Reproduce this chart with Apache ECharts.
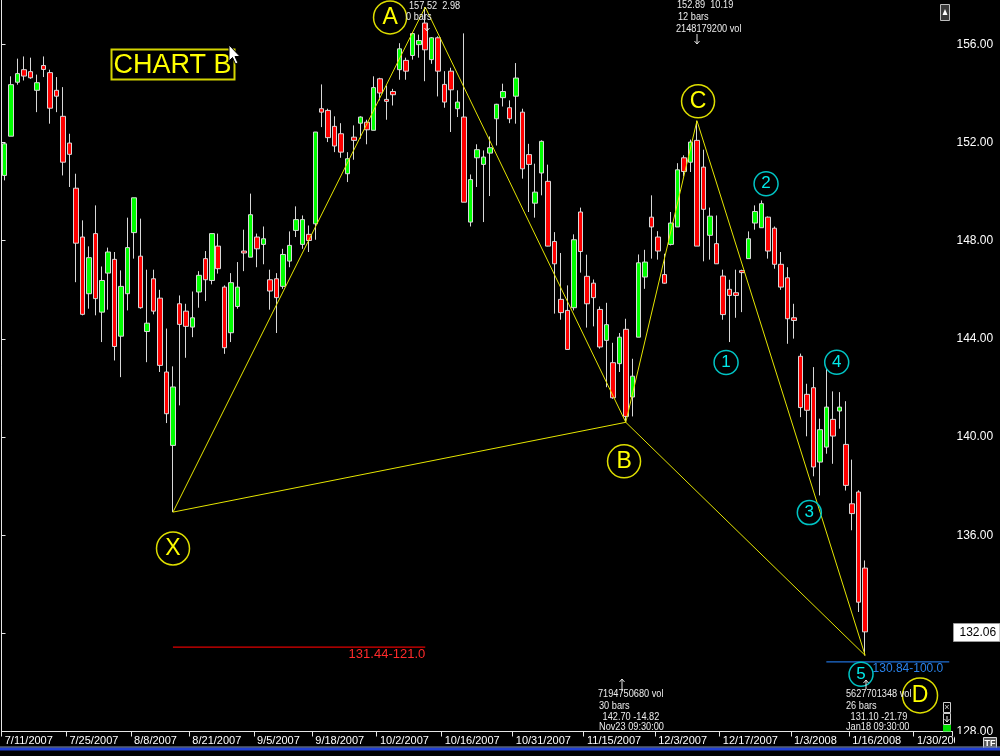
<!DOCTYPE html>
<html>
<head>
<meta charset="utf-8">
<style>
  html, body { margin: 0; padding: 0; background: #000; }
  #chart { width: 1000px; height: 756px; }
</style>
<script src="https://cdn.jsdelivr.net/npm/echarts@6/dist/echarts.min.js"></script>
</head>
<body>
<div id="chart"></div>
<script>
// Daily bars, 7/11/2007 .. 1/18/2008
const opens = [
  150.66,152.26,154.46,154.97,154.89,154.13,155.14,154.85,154.13,153.07,
  151.98,150.14,148.15,145.84,148.29,145.09,146.68,147.24,144.11,145.84,
  148.33,147.37,144.30,146.45,145.66,142.65,139.66,145.43,145.13,144.48,
  145.91,147.27,146.38,147.78,146.11,144.25,145.32,147.58,147.33,148.15,
  147.85,146.41,146.45,146.14,147.17,148.42,147.85,148.26,148.69,153.38,
  153.31,152.66,152.36,150.73,152.22,152.79,152.83,152.50,154.60,153.76,
  154.08,154.97,155.35,155.55,155.99,156.87,155.38,156.27,154.37,154.91,
  153.38,153.04,148.76,151.38,151.11,151.57,152.97,153.83,153.42,153.89,
  153.24,151.51,149.53,150.76,150.42,147.97,145.61,145.16,145.27,149.17,
  146.55,146.27,145.20,143.94,143.03,142.99,144.39,141.63,144.07,146.52,
  148.96,148.15,146.62,147.85,148.56,151.38,151.20,152.09,151.00,148.22,
  147.88,146.56,146.02,145.88,146.78,147.27,148.72,148.53,148.96,148.51,
  147.04,146.49,144.86,143.29,141.74,142.01,138.98,139.59,140.72,141.06,
  139.70,137.28,137.76,134.66
];
const closes = [
  151.95,154.36,154.81,154.71,154.64,154.44,154.98,153.40,153.89,151.20,
  151.52,147.90,145.00,147.31,145.64,146.38,147.54,143.69,146.14,147.72,
  149.75,145.27,144.64,145.13,142.92,140.95,142.04,144.59,144.51,144.86,
  146.59,146.41,148.29,146.86,143.64,146.29,146.11,147.50,149.06,147.67,
  148.08,145.95,145.68,147.44,147.81,148.86,148.86,148.01,152.43,153.24,
  152.20,151.86,151.61,151.34,152.09,153.04,152.52,154.24,154.02,153.68,
  153.95,155.82,154.91,156.44,156.16,155.78,156.27,154.91,153.65,154.15,
  153.65,149.57,150.49,151.71,151.41,151.79,153.56,154.08,152.97,154.63,
  150.93,151.11,149.98,152.05,147.78,147.06,145.07,143.57,148.04,147.56,
  145.43,145.68,143.67,144.58,141.60,144.07,140.84,142.48,147.10,147.13,
  148.56,147.58,146.27,148.72,150.89,150.82,152.02,147.78,149.28,149.00,
  147.06,144.99,145.77,145.77,146.70,148.08,149.19,149.51,147.58,147.04,
  146.11,144.82,144.75,141.20,141.09,138.78,140.30,141.22,140.04,141.22,
  138.03,136.88,133.27,132.06
];
const lows = [
  150.46,152.26,154.36,154.53,154.60,153.24,154.67,152.77,153.24,150.66,
  150.19,146.31,144.96,145.23,144.96,143.87,145.19,143.12,142.44,145.16,
  147.27,145.23,143.05,145.00,142.65,140.57,136.94,141.29,143.23,144.07,
  145.27,145.54,146.22,146.66,143.39,143.87,145.23,146.76,147.33,146.92,
  147.04,145.19,144.24,146.04,146.92,148.15,147.67,147.54,148.04,152.63,
  152.02,151.61,151.38,150.39,151.30,152.16,151.93,152.50,153.72,152.93,
  153.51,154.56,154.56,155.38,155.46,154.50,155.21,153.88,153.42,152.43,
  153.04,149.57,148.58,150.19,148.76,149.82,151.88,153.47,152.79,152.77,
  150.53,149.17,148.94,149.85,147.77,145.03,144.78,143.57,145.16,146.70,
  144.46,144.51,143.60,142.03,141.56,142.65,140.60,140.84,144.07,146.04,
  147.27,147.23,146.25,147.81,148.56,150.62,150.80,147.78,147.16,147.23,
  147.06,144.78,143.87,144.86,145.09,147.27,148.45,148.53,147.27,146.86,
  146.00,143.80,144.01,140.81,140.03,138.40,137.62,139.32,138.91,140.34,
  137.82,136.20,132.87,131.10
];
const highs = [
  151.98,154.70,155.42,155.51,155.46,154.77,155.51,154.97,154.67,154.26,
  152.36,150.73,148.83,147.77,149.44,146.95,147.72,147.54,146.79,148.94,
  149.75,148.90,146.82,146.82,146.00,144.42,142.88,145.77,145.43,145.93,
  146.76,147.58,148.29,148.29,146.18,146.68,147.13,148.45,149.92,148.29,
  148.58,146.82,146.68,147.67,148.38,149.40,149.03,148.62,152.43,154.37,
  153.38,153.07,152.79,151.61,152.70,153.07,152.93,154.70,154.64,154.33,
  154.19,156.05,155.46,156.44,156.40,157.52,156.30,156.33,154.91,155.05,
  154.13,156.45,150.70,151.93,151.68,152.25,153.58,154.40,153.72,155.24,
  153.38,151.95,151.14,152.09,151.10,148.35,147.50,146.18,148.26,149.35,
  147.43,146.42,145.32,145.47,143.84,144.24,144.82,143.19,147.44,147.63,
  149.85,148.39,147.47,149.17,151.16,151.48,152.12,152.89,151.71,149.35,
  149.03,146.82,146.41,146.82,146.82,148.38,149.44,149.64,148.99,148.58,
  147.54,146.92,145.43,143.40,142.17,142.85,140.75,142.78,141.86,141.83,
  141.46,139.08,137.83,134.97
];

// Session calendar: weekdays from the first bar, minus exchange holidays
// that fall inside the loaded history; the tail runs past the last bar.
const firstSession = [2007, 6, 11];
const marketHolidays = ['2007-09-03', '2007-11-22', '2007-12-25', '2008-01-01'];
const sessionCount = 147;

// Date labels shown under the price pane
const dateTicks = ['7/11/2007','7/25/2007','8/8/2007','8/21/2007','9/5/2007','9/18/2007',
  '10/2/2007','10/16/2007','10/31/2007','11/15/2007','12/3/2007','12/17/2007',
  '1/3/2008','1/16/2008','1/30/2008'];

// Price scale labels
const priceTicks = [128, 132, 136, 140, 144, 148, 152, 156];
const lastPrice = 132.06;

// XABCD pivots (bar index, price)
const pivotNames = ['X', 'A', 'B', 'C', 'D'];
const pivotBars = [26, 65, 96, 107, 133];
const pivotPrices = [136.94, 157.52, 140.60, 152.89, 131.10];

// Fibonacci projections
const levelNames = ['131.44-121.0', '130.84-100.0'];
const levelPrices = [131.44, 130.84];
const levelFromBar = [26, 127];
const levelToBar = [65, 146];

// Letter and wave count badges: [name, bar position, price]
const letterBadges = [['X', 26.51, 135.46], ['A', 60.06, 157.10], ['B', 96.23, 139.01],
  ['C', 107.67, 153.68], ['D', 141.98, 129.47]];
const waveBadges = [['1', 112.0, 143.04], ['2', 118.18, 150.32], ['3', 124.87, 136.92],
  ['4', 129.1, 143.05], ['5', 132.86, 130.33]];

// ---------------------------------------------------------------
const holidaySet = new Set(marketHolidays);
const sessions = [];
{
  const d = new Date(Date.UTC(firstSession[0], firstSession[1], firstSession[2]));
  while (sessions.length < sessionCount) {
    const wd = d.getUTCDay();
    const iso = d.toISOString().slice(0, 10);
    if (wd !== 0 && wd !== 6 && !holidaySet.has(iso)) {
      sessions.push((d.getUTCMonth() + 1) + '/' + d.getUTCDate() + '/' + d.getUTCFullYear());
    }
    d.setUTCDate(d.getUTCDate() + 1);
  }
}
const tickSet = new Set(dateTicks);
const priceSet = new Set(priceTicks);

const bars = opens.map((o, i) => [o, closes[i], lows[i], highs[i]]);
const legPath = pivotBars.map((b, i) => [b, pivotPrices[i]]);
const basePath = [0, 2, 4].map(k => [pivotBars[k], pivotPrices[k]]);

const SANS = '"Liberation Sans", Arial, sans-serif';
const PANE_LEFT = 1.5, PANE_TOP = 0, PANE_W = 951, PANE_H = 731.5;
const PRICE_MIN = 128, PRICE_MAX = 157.81;

const levelColors = ['#e00000', '#1f6fd6'];
const levelTextColors = ['#ff2a2a', '#2a82ea'];
const levelFont = [13, 12];
const levelShift = [0, 6];

// one host series per projection level: a flat two-point segment plus its caption
const levelSeries = levelPrices.map((p, i) => ({
  type: 'line', xAxisIndex: 0, yAxisIndex: 0, silent: true, z: 4,
  color: levelColors[i],
  data: [[levelFromBar[i], p], [levelToBar[i], p]],
  symbol: 'none',
  lineStyle: { color: levelColors[i], width: 1.2, type: 'solid', opacity: 1 },
  markLine: {
    silent: true, animation: false, symbol: ['none', 'none'],
    lineStyle: { color: 'rgba(0,0,0,0)', width: 0 },
    label: {
      show: true, position: 'insideEndBottom', distance: [levelShift[i], 1],
      formatter: levelNames[i], color: levelTextColors[i],
      fontSize: levelFont[i], fontFamily: SANS
    },
    data: [[{ coord: [levelFromBar[i], p] }, { coord: [levelToBar[i], p] }]]
  }
}));

function arrow(x, y1, y2) {
  // y1 = tail, y2 = head
  const dir = y2 > y1 ? -1 : 1;
  return [
    { type: 'line', z: 100, shape: { x1: x, y1: y1, x2: x, y2: y2 }, style: { stroke: '#e6e6e6', lineWidth: 1 } },
    { type: 'polyline', z: 100, shape: { points: [[x - 2.5, y2 + dir * 3], [x, y2], [x + 2.5, y2 + dir * 3]] },
      style: { stroke: '#e6e6e6', lineWidth: 1, fill: null } }
  ];
}
// narrow readout text: regular face squeezed horizontally
function note(text, x, y) {
  return { type: 'text', z: 100, x: x, y: y, scaleX: 0.8,
    style: { text: text, x: 0, y: 0, fill: '#ececec', font: '11.5px ' + SANS, textVerticalAlign: 'middle' } };
}

const graphics = [
  // title box
  { type: 'rect', z: 100, shape: { x: 111.5, y: 49.5, width: 123, height: 30 },
    style: { fill: '#000', stroke: '#d4d400', lineWidth: 2 } },
  { type: 'text', z: 101, style: { text: 'CHART B', x: 172.5, y: 65.5, textAlign: 'center',
    textVerticalAlign: 'middle', fill: '#ffff00', font: '27px ' + SANS } },
  // mouse pointer
  { type: 'polygon', z: 102, shape: { points: [[229, 45], [229, 61], [232.5, 57.5], [235.5, 64], [238, 63], [235, 56.5], [240, 56.5]] },
    style: { fill: '#ffffff', stroke: '#000000', lineWidth: 1 } },
  // pivot readouts
  note('157.52  2.98', 409, 6), note('0 bars', 406, 17),
  note('152.89  10.19', 677, 5), note('12 bars', 678, 17), note('2148179200 vol', 676, 29),
  note('7194750680 vol', 598, 694), note('30 bars', 599, 706), note(' 142.70 -14.82', 600, 717), note('Nov23 09:30:00', 599, 727),
  note('5627701348 vol', 846, 694), note('26 bars', 846, 706), note(' 131.10 -21.79', 848, 717), note('Jan18 09:30:00', 846, 727),
  ...arrow(427, 24, 31), ...arrow(697, 34, 44), ...arrow(622, 691, 679), ...arrow(866, 689, 680),
  // right edge widgets
  { type: 'rect', z: 100, shape: { x: 940.5, y: 4.5, width: 9, height: 16 }, style: { fill: '#3a3a3a', stroke: '#bdbdbd', lineWidth: 1 } },
  { type: 'polygon', z: 101, shape: { points: [[942.5, 15], [945, 9], [947.5, 15]] }, style: { fill: '#ffffff' } },
  { type: 'rect', z: 100, shape: { x: 943.5, y: 702.5, width: 7, height: 10 }, style: { fill: '#000', stroke: '#d0d0d0', lineWidth: 1 } },
  { type: 'text', z: 101, style: { text: '×', x: 947, y: 707.5, textAlign: 'center', textVerticalAlign: 'middle', fill: '#d0d0d0', font: '9px ' + SANS } },
  { type: 'rect', z: 100, shape: { x: 943.5, y: 713.5, width: 7, height: 11 }, style: { fill: '#000', stroke: '#d0d0d0', lineWidth: 1 } },
  ...arrow(947, 716, 722),
  { type: 'rect', z: 100, shape: { x: 943, y: 725, width: 8, height: 6.5 }, style: { fill: '#00e000' } },
  // clip of the last date label at the price scale
  { type: 'rect', z: 100, shape: { x: 955, y: 734, width: 27, height: 12.5 }, style: { fill: '#000' } },
  // TF button
  { type: 'rect', z: 100, shape: { x: 983.5, y: 737.5, width: 13, height: 12 }, style: { fill: '#5a5a5a', stroke: '#d8d8d8', lineWidth: 1 } },
  { type: 'text', z: 101, style: { text: 'TF', x: 990, y: 744, textAlign: 'center', textVerticalAlign: 'middle', fill: '#ffffff', font: 'bold 9px ' + SANS } },
  // lower pane separator
  { type: 'rect', z: 100, shape: { x: 0, y: 747.5, width: 1000, height: 3 }, style: { fill: '#2140d4' } },
  { type: 'rect', z: 100, shape: { x: 0, y: 746.5, width: 1000, height: 1 }, style: { fill: '#8090b0' } }
];

const chart = echarts.init(document.getElementById('chart'), null, { renderer: 'canvas' });
chart.setOption({
  backgroundColor: '#000000',
  animation: false,
  grid: { left: PANE_LEFT, top: PANE_TOP, width: PANE_W, height: PANE_H,
    containLabel: false, outerBoundsMode: 'none', show: false },
  xAxis: [
    {
      type: 'category', data: sessions, boundaryGap: true,
      axisLine: { show: true, lineStyle: { color: '#e6e6e6', width: 1 } },
      axisTick: { show: true, length: 5, interval: (i, v) => tickSet.has(v), lineStyle: { color: '#e6e6e6' } },
      axisLabel: { show: true, interval: (i, v) => tickSet.has(v), align: 'left', margin: 4,
        color: '#ffffff', fontSize: 11, fontFamily: SANS, hideOverlap: false },
      splitLine: { show: false }
    },
    { type: 'value', min: 0, max: sessionCount, show: false }
  ],
  yAxis: [
    {
      type: 'value', position: 'right', min: PRICE_MIN, max: PRICE_MAX, interval: 4, scale: true,
      axisLine: { show: true, lineStyle: { color: '#e6e6e6', width: 1 } },
      axisTick: { show: true, length: 4, lineStyle: { color: '#e6e6e6' } },
      axisLabel: { show: true, margin: 4, color: '#ffffff', fontSize: 12, fontFamily: SANS,
        showMaxLabel: false, formatter: v => priceSet.has(Math.round(v * 100) / 100) ? v.toFixed(2) : '' },
      splitLine: { show: false }
    },
    {
      type: 'value', position: 'left', min: PRICE_MIN, max: PRICE_MAX,
      axisLine: { show: true, lineStyle: { color: '#e6e6e6', width: 1 } },
      axisTick: { show: false }, axisLabel: { show: false }, splitLine: { show: false }
    }
  ],
  series: [
    {
      type: 'candlestick', xAxisIndex: 0, yAxisIndex: 0, data: bars, barWidth: 5,
      itemStyle: { color: '#00ff00', color0: '#ff0000', borderColor: '#d8d8d8', borderColor0: '#d8d8d8',
        borderColorDoji: '#d8d8d8', borderWidth: 1 }
    },
    ...levelSeries,
    {
      type: 'line', xAxisIndex: 0, yAxisIndex: 0, data: legPath, symbol: 'none', z: 5, silent: true,
      lineStyle: { color: '#e6e600', width: 1 }
    },
    {
      type: 'line', xAxisIndex: 0, yAxisIndex: 0, data: basePath, symbol: 'none', z: 5, silent: true,
      lineStyle: { color: '#e6e600', width: 1 }
    },
    {
      type: 'scatter', xAxisIndex: 1, yAxisIndex: 0, z: 6, silent: true,
      data: letterBadges.map(b => ({ name: b[0], value: [b[1], b[2]] })),
      symbol: 'circle', symbolSize: (v, p) => (p.name === 'D' ? 35 : 33),
      itemStyle: { color: 'rgba(0,0,0,0)', borderColor: '#dede00', borderWidth: 1.5, opacity: 1 },
      label: { show: true, position: 'inside', formatter: p => p.name, color: '#ffff00',
        fontSize: 23, fontFamily: SANS }
    },
    {
      type: 'scatter', xAxisIndex: 1, yAxisIndex: 0, z: 6, silent: true,
      data: waveBadges.map(b => ({ name: b[0], value: [b[1], b[2]] })),
      symbol: 'circle', symbolSize: 24,
      itemStyle: { color: 'rgba(0,0,0,0)', borderColor: '#00c4c4', borderWidth: 1.5, opacity: 1 },
      label: { show: true, position: 'inside', formatter: p => p.name, color: '#00eaea',
        fontSize: 17, fontFamily: SANS }
    }
  ],
  graphic: graphics
});

// last-price tag on the price scale, placed through the axis scale
const tagY = chart.convertToPixel({ yAxisIndex: 0 }, lastPrice);
const tagX = PANE_LEFT + PANE_W + 1;
chart.setOption({
  graphic: graphics.concat([
    { type: 'rect', z: 110, shape: { x: tagX, y: Math.round(tagY) - 8.5, width: 1000 - tagX, height: 18 },
      style: { fill: '#ffffff', stroke: '#9a9a9a', lineWidth: 1 } },
    { type: 'text', z: 111, style: { text: lastPrice.toFixed(2), x: tagX + 6, y: Math.round(tagY) + 0.5,
      textVerticalAlign: 'middle', fill: '#000000', font: '12px ' + SANS } }
  ])
});
</script>
</body>
</html>
